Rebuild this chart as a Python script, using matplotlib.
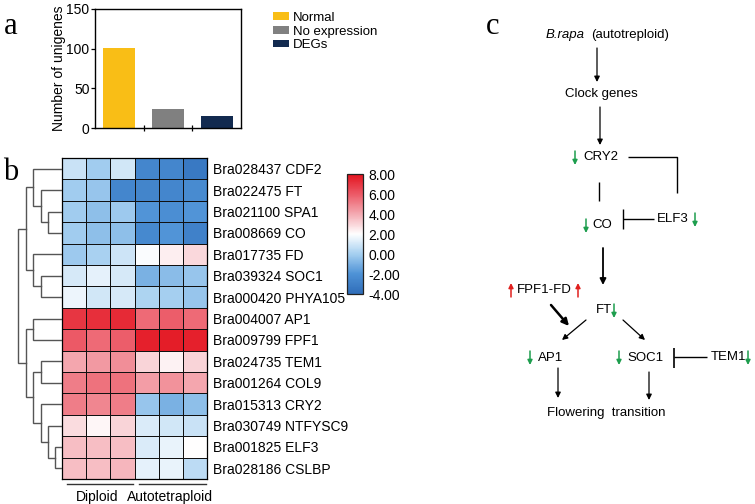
import numpy as np
import matplotlib
matplotlib.use("Agg")
import matplotlib.pyplot as plt
from matplotlib.colors import LinearSegmentedColormap

plt.rcParams['font.family'] = ['Liberation Sans', 'DejaVu Sans']

# --- data ---
bar_labels = ['Normal', 'No expression', 'DEGs']
bar_values = [101, 24, 15]
bar_colors = ['#F9BE16', '#808080', '#122A4F']

genes = ['Bra028437 CDF2', 'Bra022475 FT', 'Bra021100 SPA1', 'Bra008669 CO',
         'Bra017735 FD', 'Bra039324 SOC1', 'Bra000420 PHYA105', 'Bra004007 AP1',
         'Bra009799 FPF1', 'Bra024735 TEM1', 'Bra001264 COL9', 'Bra015313 CRY2',
         'Bra030749 NTFYSC9', 'Bra001825 ELF3', 'Bra028186 CSLBP']
groups = ['Diploid', 'Autotetraploid']
# 3 diploid + 3 autotetraploid replicates
expr = np.array([
    [0.8, -0.1, 1.0, -2.6, -2.6, -3.3],
    [-0.1, -0.3, -2.6, -2.7, -2.6, -2.4],
    [-0.1, -0.5, -0.2, -1.9, -2.2, -1.9],
    [-0.1, -0.5, -0.5, -2.5, -1.9, -2.9],
    [-0.2, 0.1, 0.9, 1.9, 2.4, 2.9],
    [1.1, 1.4, 1.1, -1.0, -0.6, -0.3],
    [1.6, 1.0, 1.1, 0.2, 0.0, -0.3],
    [7.0, 7.2, 7.3, 5.6, 5.9, 5.6],
    [6.0, 5.6, 5.9, 7.6, 7.7, 7.6],
    [4.1, 4.4, 4.7, 3.0, 2.3, 3.0],
    [5.1, 5.4, 5.4, 4.3, 4.6, 4.1],
    [5.1, 4.9, 5.1, -0.3, -1.0, -0.5],
    [2.8, 2.2, 3.0, 1.2, 1.0, 0.8],
    [3.5, 3.5, 3.5, 1.2, 1.5, 2.0],
    [3.5, 3.5, 3.7, 1.4, 1.5, 0.5],
])
# row dendrogram merges: (left, right, height); leaves are row indices,
# new clusters get ids 15, 16, ...
merges = [
    (2, 3, 14.3),    # 15
    (1, 15, 21.3),   # 16
    (0, 16, 29.3),   # 17
    (5, 6, 21.3),    # 18
    (4, 18, 29.3),   # 19
    (17, 19, 36.0),  # 20
    (7, 8, 28.7),    # 21
    (9, 10, 21.3),   # 22
    (13, 14, 7.0),   # 23
    (12, 23, 13.7),  # 24
    (11, 24, 21.3),  # 25
    (22, 25, 28.7),  # 26
    (21, 26, 36.0),  # 27
    (20, 27, 43.7),  # 28
]

W, H = 755, 504
fig = plt.figure(figsize=(W / 100, H / 100), dpi=100)


def rect(x0, y0, x1, y1):
    # pixel box -> figure fraction [left, bottom, width, height]
    return [x0 / W, 1 - y1 / H, (x1 - x0) / W, (y1 - y0) / H]


# ---------------- panel a ----------------
ax_a = fig.add_axes(rect(95, 9, 241, 128))
xpos = np.arange(len(bar_values))
bars = ax_a.bar(xpos, bar_values, width=0.66, color=bar_colors, label=bar_labels)
ax_a.set_xlim(-0.5, 2.5)
ax_a.set_ylim(0, 150)
ax_a.set_yticks([0, 50, 100, 150])
ax_a.set_xticks([0.5, 1.5])
ax_a.set_xticklabels([])
ax_a.tick_params(axis='x', direction='inout', length=5, width=0.9)
ax_a.tick_params(axis='y', direction='out', length=3, width=0.9, labelsize=10, pad=1)
ax_a.set_ylabel('Number of unigenes', fontsize=10, labelpad=0)
for s in ax_a.spines.values():
    s.set_linewidth(1.0)
ax_a.legend(handles=bars.patches, labels=bar_labels, loc='upper left',
            bbox_to_anchor=(273 / W, 1 - 12 / H), bbox_transform=fig.transFigure,
            frameon=False, fontsize=9.5, handlelength=1.2, handleheight=0.55,
            handletextpad=0.3, labelspacing=0.12, borderaxespad=0, borderpad=0)

# ---------------- panel b: heatmap ----------------
cmap = LinearSegmentedColormap.from_list('bwr_custom', [
    (0.0, '#2F6DB9'), (1 / 6, '#4E92D6'), (1 / 3, '#A5CFF0'), (0.5, '#FFFFFF'),
    (2 / 3, '#F4AAB2'), (5 / 6, '#EC5A67'), (1.0, '#E3131E')])
ax_h = fig.add_axes(rect(62, 158, 207, 479))
mesh = ax_h.pcolormesh(expr, cmap=cmap, vmin=-4, vmax=8, edgecolors='#111111', linewidth=0.7)
ax_h.set_ylim(len(genes), 0)
ax_h.set_xlim(0, 6)
ax_h.set_xticks([])
ax_h.yaxis.tick_right()
ax_h.set_yticks(np.arange(len(genes)) + 0.5)
ax_h.set_yticklabels(genes, fontsize=10)
ax_h.tick_params(axis='y', length=0, pad=4)
for s in ax_h.spines.values():
    s.set_linewidth(0.9)

# group brackets under heatmap
for gi, g in enumerate(groups):
    x0 = gi * 3 + 0.2
    x1 = gi * 3 + 3 - 0.05
    ax_h.plot([x0, x1], [15.25, 15.25], color='#333333', lw=1.0, clip_on=False)
    ax_h.text(gi * 3 + 1.45, 15.85, g, ha='center', va='center', fontsize=10)

# dendrogram
ax_d = fig.add_axes(rect(14, 158, 62, 479))
ax_d.set_xlim(48, 0)
ax_d.set_ylim(len(genes), 0)
ax_d.axis('off')
pos = {i: i + 0.5 for i in range(len(genes))}
hgt = {i: 0.0 for i in range(len(genes))}
for k, (a, b, h) in enumerate(merges):
    ya, yb = pos[a], pos[b]
    ax_d.plot([hgt[a], h, h, hgt[b]], [ya, ya, yb, yb], color='#555555', lw=1.0,
              solid_joinstyle='miter')
    nid = len(genes) + k
    pos[nid] = (ya + yb) / 2
    hgt[nid] = h

# colorbar
ax_cb = fig.add_axes(rect(347, 174, 363, 294))
cb = fig.colorbar(mesh, cax=ax_cb, ticks=[-4, -2, 0, 2, 4, 6, 8], format='%.2f')
cb.ax.tick_params(length=0, labelsize=10, pad=4)
cb.outline.set_linewidth(0.9)
cb.outline.set_edgecolor('#222222')

# ---------------- panel c: pathway ----------------
ax_c = fig.add_axes([0, 0, 1, 1])
ax_c.set_xlim(0, W)
ax_c.set_ylim(H, 0)
ax_c.axis('off')
ax_c.patch.set_alpha(0)

green = '#1E9E4E'
red = '#E0201E'
fs = 9.5


def arrow(x0, y0, x1, y1, lw=0.9, ms=8, color='black'):
    ax_c.annotate('', xy=(x1, y1), xytext=(x0, y0),
                  arrowprops=dict(arrowstyle='-|>', color=color, lw=lw,
                                  mutation_scale=ms, shrinkA=0, shrinkB=0))


def mini(x, y, up=False):
    c = red if up else green
    if up:
        arrow(x, y + 7, x, y - 7, lw=1.1, ms=7, color=c)
    else:
        arrow(x, y - 7, x, y + 7, lw=1.1, ms=7, color=c)


def line(xs, ys, lw=1.0):
    ax_c.plot(xs, ys, color='black', lw=lw, solid_capstyle='butt')


ax_c.text(546, 35, 'B.rapa', style='italic', ha='left', va='center', fontsize=fs)
ax_c.text(591, 35, '(autotreploid)', ha='left', va='center', fontsize=fs)
arrow(597, 48, 597, 82)
ax_c.text(601, 94, 'Clock genes', ha='center', va='center', fontsize=fs)
arrow(600, 107, 600, 145)

ax_c.text(583, 157, 'CRY2', ha='left', va='center', fontsize=fs)
mini(575, 158)
line([628, 677, 677], [157, 157, 193])
line([599, 599], [182, 201])

ax_c.text(592, 225, 'CO', ha='left', va='center', fontsize=fs)
mini(586, 226)
line([623, 623], [209, 229])
line([623, 654], [219, 219])
ax_c.text(657, 219, 'ELF3', ha='left', va='center', fontsize=fs)
mini(695, 220)

arrow(603, 248, 603, 285, lw=1.3, ms=9)
ax_c.text(596, 310, 'FT', ha='left', va='center', fontsize=fs)
mini(614, 311)

ax_c.text(517, 290, 'FPF1-FD', ha='left', va='center', fontsize=fs)
mini(511, 290, up=True)
mini(578, 290, up=True)
arrow(551, 305, 569, 326, lw=1.8, ms=10)
arrow(586, 320, 562, 340)
arrow(623, 320, 645, 340)

mini(530, 358)
ax_c.text(538, 358, 'AP1', ha='left', va='center', fontsize=fs)
mini(619, 358)
ax_c.text(627, 358, 'SOC1', ha='left', va='center', fontsize=fs)
line([674, 674], [348, 368], lw=1.2)
line([674, 707], [357, 357])
ax_c.text(711, 357, 'TEM1', ha='left', va='center', fontsize=fs)
mini(748, 358)

arrow(558, 368, 558, 398)
arrow(649, 372, 649, 400)
ax_c.text(547, 413, 'Flowering  transition', ha='left', va='center', fontsize=fs)

# panel letters
for letter, x, y in [('a', 11, 27), ('b', 11, 172), ('c', 493, 27)]:
    ax_c.text(x, y, letter, family='Liberation Serif', fontsize=22, ha='center', va='center')

fig.savefig('out.png', dpi=100)
